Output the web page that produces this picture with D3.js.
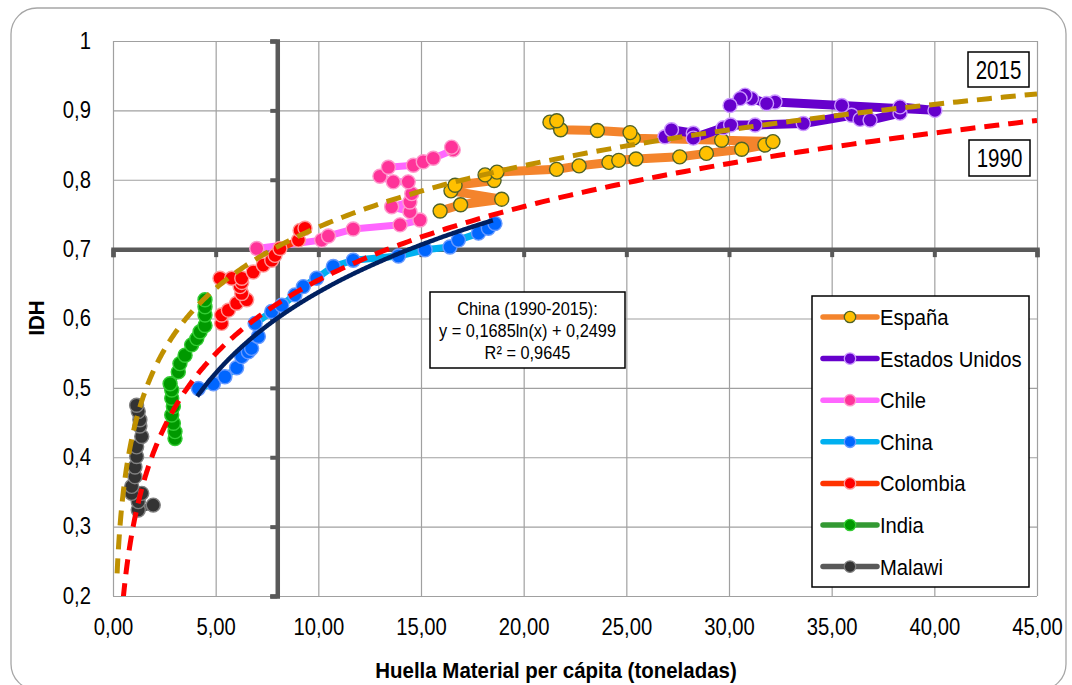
<!DOCTYPE html>
<html><head><meta charset="utf-8">
<script src="https://cdn.jsdelivr.net/npm/d3@7"></script>
<style>
body{margin:0;background:#fff}
svg{display:block}
text{font-family:"Liberation Sans",Arial,sans-serif;fill:#000}
</style>
</head><body>
<svg id="c" width="1072" height="685"></svg>
<script>
// ---------- DATA ----------
const xTicks = [0, 5, 10, 15, 20, 25, 30, 35, 40, 45];
const yTicks = [0.2, 0.3, 0.4, 0.5, 0.6, 0.7, 0.8, 0.9, 1];
const seriesNames = ["España", "Estados Unidos", "Chile", "China", "Colombia", "India", "Malawi"];

const espana = [[15.93,0.755],[16.93,0.764],[18.93,0.772],[16.46,0.784],[16.66,0.792],[18.56,0.799],[18.12,0.807],[18.70,0.811],[21.60,0.815],[22.70,0.820],[24.15,0.825],[24.63,0.828],[25.47,0.830],[27.60,0.833],[28.90,0.838],[30.62,0.844],[31.75,0.850],[32.14,0.855],[29.64,0.857],[25.34,0.860],[25.18,0.868],[23.59,0.871],[21.80,0.872],[21.28,0.883],[21.61,0.885]];
const estadosUnidos = [[26.88,0.862],[27.20,0.872],[28.26,0.867],[28.26,0.860],[29.72,0.875],[30.08,0.879],[31.27,0.879],[33.62,0.881],[35.97,0.893],[36.38,0.887],[36.87,0.886],[38.33,0.896],[38.33,0.905],[40.03,0.900],[35.49,0.907],[32.24,0.912],[31.83,0.910],[31.10,0.917],[30.78,0.922],[30.54,0.917],[30.05,0.907]];
const chile = [[7.00,0.701],[10.16,0.713],[10.49,0.719],[11.70,0.729],[13.98,0.735],[14.95,0.742],[14.46,0.754],[13.57,0.761],[14.46,0.768],[14.55,0.780],[14.38,0.797],[13.65,0.797],[13.00,0.805],[13.41,0.818],[14.63,0.821],[15.11,0.826],[15.60,0.831],[16.57,0.843],[16.49,0.847]];
const china = [[4.16,0.499],[4.89,0.506],[5.45,0.516],[6.02,0.529],[6.27,0.545],[6.59,0.552],[6.75,0.557],[7.08,0.574],[6.92,0.593],[7.73,0.610],[8.22,0.619],[8.86,0.634],[9.27,0.646],[9.92,0.658],[10.73,0.675],[11.70,0.684],[13.90,0.690],[15.20,0.699],[16.41,0.703],[16.82,0.713],[17.80,0.723],[18.28,0.730],[18.60,0.737]];
const colombia = [[5.29,0.593],[5.29,0.605],[5.62,0.612],[6.02,0.622],[6.51,0.627],[6.27,0.636],[6.19,0.646],[6.27,0.652],[5.21,0.658],[5.78,0.658],[6.27,0.658],[6.83,0.667],[7.32,0.677],[7.73,0.684],[7.89,0.691],[8.13,0.701],[9.03,0.713],[9.11,0.727],[9.35,0.730]];
const india = [[3.02,0.427],[3.02,0.437],[2.94,0.449],[2.86,0.461],[2.94,0.473],[2.86,0.485],[2.86,0.497],[2.78,0.506],[3.18,0.523],[3.26,0.535],[3.51,0.547],[3.83,0.562],[4.08,0.571],[4.24,0.581],[4.48,0.590],[4.48,0.605],[4.48,0.617],[4.48,0.627]];
const malawi = [[1.96,0.331],[1.23,0.324],[1.23,0.336],[1.40,0.348],[0.91,0.348],[0.91,0.358],[1.07,0.372],[1.07,0.386],[1.15,0.401],[1.15,0.415],[1.40,0.430],[1.31,0.445],[1.31,0.454],[1.23,0.466],[1.15,0.475]];
const seriesData = [espana, estadosUnidos, chile, china, colombia, india, malawi];

// logarithmic trend lines: y = a*ln(x) + b  over [xStart, xEnd]
const trendNames = ["2015", "1990", "China (1990-2015)"];
const trendA = [0.1276, 0.153, 0.1685];
const trendB = [0.438, 0.303, 0.2499];
const trendXStart = [0.2, 0.5, 4.1];
const trendXEnd = [45, 45, 18.5];
const equationLines = ["China (1990-2015):", "y = 0,1685ln(x) + 0,2499", "R² = 0,9645"];

// ---------- STYLE ----------
const lineColors = ["#F4842C", "#6600CC", "#FF66FF", "#00B0F0", "#FF3300", "#339933", "#595959"];
const markerFill = ["#FFC000", "#6600CC", "#FF3399", "#0066FF", "#FF0000", "#009900", "#333333"];
const markerStroke = ["#4F6228", "#CC99FF", "#FF99CC", "#6699FF", "#FF9999", "#33CC33", "#808080"];
const lineWidths = [9, 9, 7, 7, 7, 7, 7];
const trendColors = ["#BF9000", "#FF0000", "#002060"];
const trendDash = ["15,9", "15,9", null];

const svg = d3.select("#c");
const W = 1072, H = 685;
const L = 113, R = 1037, T = 41, B = 596;
const x = d3.scaleLinear().domain([0, 45]).range([L, R]);
const y = d3.scaleLinear().domain([0.2, 1]).range([B, T]);

// frame
svg.append("rect").attr("width", W).attr("height", H).attr("fill", "#fff");
svg.append("rect").attr("x", 11).attr("y", 8).attr("width", 1055).attr("height", 682)
  .attr("rx", 26).attr("fill", "#fff").attr("stroke", "#A6A6A6").attr("stroke-width", 1.3);

svg.append("defs").append("clipPath").attr("id", "clip")
  .append("rect").attr("x", L).attr("y", T).attr("width", R - L).attr("height", B - T);

// gridlines
const grid = svg.append("g");
grid.append("g").attr("transform", `translate(0,${B})`)
  .call(d3.axisBottom(x).tickValues(xTicks).tickSize(-(B - T)).tickFormat(""))
  .call(g => g.select(".domain").remove())
  .call(g => g.selectAll("line").attr("stroke", "#A0A0A0").attr("stroke-width", 1.2));
grid.append("g").attr("transform", `translate(${L},0)`)
  .call(d3.axisLeft(y).tickValues(yTicks).tickSize(-(R - L)).tickFormat(""))
  .call(g => g.select(".domain").remove())
  .call(g => g.selectAll("line").attr("stroke", "#A0A0A0").attr("stroke-width", 1.2));

// tick labels
const fmtX = d => d.toFixed(2).replace(".", ",");
const fmtY = d => d === 1 ? "1" : d.toFixed(1).replace(".", ",");
svg.append("g").attr("transform", `translate(0,${B})`)
  .call(d3.axisBottom(x).tickValues(xTicks).tickSize(0).tickPadding(22.5).tickFormat(fmtX))
  .call(g => g.select(".domain").remove())
  .call(g => g.selectAll("text").attr("font-size", 23).attr("fill", "#000")
    .attr("font-family", '"Liberation Sans",Arial,sans-serif').attr("transform", "scale(0.88,1)"));
svg.append("g").attr("transform", `translate(${L},0)`)
  .call(d3.axisLeft(y).tickValues(yTicks).tickSize(0).tickPadding(25).tickFormat(fmtY))
  .call(g => g.select(".domain").remove())
  .call(g => g.selectAll("text").attr("font-size", 23).attr("fill", "#000")
    .attr("font-family", '"Liberation Sans",Arial,sans-serif').attr("transform", "scale(0.88,1)"));

// crossing axes (cross at x=8, y=0.7)
const axisCol = "#595959";
svg.append("g").attr("transform", `translate(0,${y(0.7)})`)
  .call(d3.axisBottom(x).tickValues(xTicks).tickSize(8).tickSizeOuter(8).tickFormat(""))
  .call(g => g.select(".domain").attr("stroke", axisCol).attr("stroke-width", 4.5))
  .call(g => g.selectAll(".tick line").attr("stroke", axisCol).attr("stroke-width", 4));
svg.append("g").attr("transform", `translate(${x(8)},0)`)
  .call(d3.axisLeft(y).tickValues(yTicks).tickSize(7).tickSizeOuter(7).tickFormat(""))
  .call(g => g.select(".domain").attr("stroke", axisCol).attr("stroke-width", 4.5))
  .call(g => g.selectAll(".tick line").attr("stroke", axisCol).attr("stroke-width", 4));

// series
const line = d3.line().x(d => x(d[0])).y(d => y(d[1]));
const plot = svg.append("g").attr("clip-path", "url(#clip)");
seriesData.forEach((data, i) => {
  const g = plot.append("g");
  g.append("path").datum(data).attr("d", line).attr("fill", "none")
    .attr("stroke", lineColors[i]).attr("stroke-width", lineWidths[i])
    .attr("stroke-linejoin", "round").attr("stroke-linecap", "round");
  g.selectAll("circle").data(data).join("circle")
    .attr("cx", d => x(d[0])).attr("cy", d => y(d[1])).attr("r", 7)
    .attr("fill", markerFill[i]).attr("stroke", markerStroke[i]).attr("stroke-width", 1.4);
});

// trend lines
trendNames.forEach((n, i) => {
  const pts = d3.range(0, 301).map(k => {
    const xv = trendXStart[i] * Math.pow(trendXEnd[i] / trendXStart[i], k / 300);
    return [xv, trendA[i] * Math.log(xv) + trendB[i]];
  });
  plot.append("path").datum(pts).attr("d", line).attr("fill", "none")
    .attr("stroke", trendColors[i]).attr("stroke-width", i === 2 ? 4.5 : 5)
    .attr("stroke-dasharray", trendDash[i]);
});

// boxed labels 2015 / 1990
function boxLabel(txt, bx, by, bw, bh) {
  svg.append("rect").attr("x", bx).attr("y", by).attr("width", bw).attr("height", bh)
    .attr("fill", "#fff").attr("stroke", "#000").attr("stroke-width", 1.5);
  svg.append("text").attr("transform", `translate(${bx + bw / 2},${by + bh / 2}) scale(0.82,1)`)
    .attr("text-anchor", "middle").attr("dy", "0.36em").attr("font-size", 25).text(txt);
}
boxLabel(trendNames[0], 968, 52, 61, 35);
boxLabel(trendNames[1], 969, 140, 61, 36);

// equation box
svg.append("rect").attr("x", 430).attr("y", 292).attr("width", 195).attr("height", 76)
  .attr("fill", "#fff").attr("stroke", "#000").attr("stroke-width", 1.5);
equationLines.forEach((t, i) => {
  svg.append("text").attr("transform", `translate(527.5,${308.5 + i * 21.7}) scale(0.86,1)`)
    .attr("text-anchor", "middle").attr("dy", "0.36em").attr("font-size", 19).text(t);
});

// legend
const lg = svg.append("g");
lg.append("rect").attr("x", 812).attr("y", 296).attr("width", 217).attr("height", 291)
  .attr("fill", "#fff").attr("stroke", "#000").attr("stroke-width", 1.5);
seriesNames.forEach((n, i) => {
  const cy = 317 + i * 41.6;
  lg.append("line").attr("x1", 823).attr("x2", 877).attr("y1", cy).attr("y2", cy)
    .attr("stroke", lineColors[i]).attr("stroke-width", 5.5).attr("stroke-linecap", "round");
  lg.append("circle").attr("cx", 850).attr("cy", cy).attr("r", 5.7)
    .attr("fill", markerFill[i]).attr("stroke", markerStroke[i]).attr("stroke-width", 1.3);
  lg.append("text").attr("transform", `translate(880,${cy}) scale(0.92,1)`)
    .attr("dy", "0.36em").attr("font-size", 22).text(n);
});

// axis titles
svg.append("text").attr("transform", "translate(556,678) scale(0.93,1)")
  .attr("text-anchor", "middle").attr("font-size", 22).attr("font-weight", "bold")
  .text("Huella Material per cápita (toneladas)");
svg.append("text").attr("transform", "translate(44,318) rotate(-90) scale(0.93,1)")
  .attr("text-anchor", "middle").attr("font-size", 22).attr("font-weight", "bold")
  .text("IDH");
</script>
</body></html>
